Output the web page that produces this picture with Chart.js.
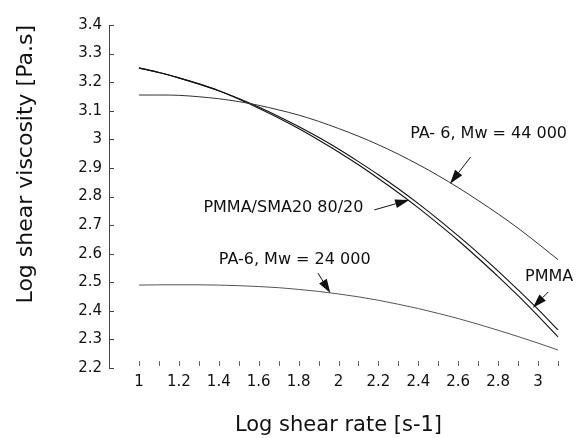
<!DOCTYPE html>
<html>
<head>
<meta charset="utf-8">
<script src="https://cdn.jsdelivr.net/npm/chart.js@4.4.1/dist/chart.umd.min.js"></script>
<style>
  html, body { margin: 0; padding: 0; background: #fff; }
  #wrap { width: 578px; height: 438px; }
</style>
</head>
<body>
<div id="wrap"><canvas id="c" width="578" height="438"></canvas></div>
<script>
// ---- data ----
const shearRate = [1.0, 1.1, 1.2, 1.3, 1.4, 1.5, 1.6, 1.7, 1.8, 1.9, 2.0, 2.1, 2.2, 2.3, 2.4, 2.5, 2.6, 2.7, 2.8, 2.9, 3.0, 3.1];
const blendSMA = [3.250, 3.234, 3.215, 3.194, 3.170, 3.143, 3.113, 3.080, 3.045, 3.007, 2.966, 2.922, 2.876, 2.827, 2.775, 2.720, 2.662, 2.602, 2.539, 2.473, 2.405, 2.333];
const pmma = [3.250, 3.234, 3.215, 3.194, 3.170, 3.141, 3.109, 3.075, 3.038, 2.998, 2.956, 2.911, 2.863, 2.813, 2.760, 2.704, 2.646, 2.584, 2.520, 2.453, 2.382, 2.309];
const pa6_44000 = [3.155, 3.155, 3.154, 3.149, 3.142, 3.132, 3.119, 3.103, 3.085, 3.063, 3.038, 3.011, 2.981, 2.948, 2.912, 2.873, 2.831, 2.786, 2.739, 2.689, 2.635, 2.579];
const pa6_24000 = [2.490, 2.491, 2.491, 2.491, 2.490, 2.488, 2.485, 2.481, 2.475, 2.468, 2.459, 2.449, 2.437, 2.423, 2.408, 2.391, 2.373, 2.353, 2.332, 2.310, 2.287, 2.263];

const xTickValues = [1.0, 1.1, 1.2, 1.3, 1.4, 1.5, 1.6, 1.7, 1.8, 1.9, 2.0, 2.1, 2.2, 2.3, 2.4, 2.5, 2.6, 2.7, 2.8, 2.9, 3.0, 3.1];
const xTickLabels = ['1', '', '1.2', '', '1.4', '', '1.6', '', '1.8', '', '2', '', '2.2', '', '2.4', '', '2.6', '', '2.8', '', '3', ''];
const yTickValues = [2.2, 2.3, 2.4, 2.5, 2.6, 2.7, 2.8, 2.9, 3.0, 3.1, 3.2, 3.3, 3.4];
const yTickLabels = ['2.2', '2.3', '2.4', '2.5', '2.6', '2.7', '2.8', '2.9', '3', '3.1', '3.2', '3.3', '3.4'];

const xTitle = 'Log shear rate [s-1]';
const yTitle = 'Log shear viscosity [Pa.s]';

// annotations (label anchor and arrow in data units)
const annoTexts = ['PA- 6, Mw = 44 000', 'PMMA/SMA20 80/20', 'PA-6, Mw = 24 000', 'PMMA'];
const annoX = [2.359, 1.323, 1.400, 2.935];
const annoY = [3.019, 2.760, 2.578, 2.518];
const arrowFromX = [2.662, 2.179, 1.897, 3.051];
const arrowFromY = [2.938, 2.753, 2.532, 2.466];
const arrowToX = [2.559, 2.354, 1.959, 2.974];
const arrowToY = [2.845, 2.788, 2.462, 2.411];

const FONT = "'DejaVu Sans', sans-serif";

function pts(ys) { return shearRate.map((x, i) => ({ x: x, y: ys[i] })); }

const axesPlugin = {
  id: 'axesPlugin',
  afterDraw(chart) {
    const ctx = chart.ctx;
    const xs = chart.scales.x, ys = chart.scales.y;
    const a = chart.chartArea;
    ctx.save();
    ctx.strokeStyle = '#444';
    ctx.lineWidth = 1;
    // y axis line
    ctx.beginPath();
    ctx.moveTo(a.left + 0.5, a.top);
    ctx.lineTo(a.left + 0.5, a.bottom);
    ctx.stroke();
    // y tick marks (inward)
    yTickValues.forEach(v => {
      const py = Math.round(ys.getPixelForValue(v)) + 0.5;
      ctx.beginPath();
      ctx.moveTo(a.left, py);
      ctx.lineTo(a.left + 5, py);
      ctx.stroke();
    });
    // x tick marks
    ctx.strokeStyle = '#666';
    xTickValues.forEach(v => {
      const px = Math.round(xs.getPixelForValue(v)) + 0.5;
      ctx.beginPath();
      ctx.moveTo(px, a.bottom - 2);
      ctx.lineTo(px, a.bottom - 7);
      ctx.stroke();
    });
    // annotations
    ctx.fillStyle = '#111';
    ctx.font = '16px ' + FONT;
    ctx.textBaseline = 'middle';
    ctx.textAlign = 'left';
    annoTexts.forEach((t, i) => {
      ctx.fillText(t, xs.getPixelForValue(annoX[i]), ys.getPixelForValue(annoY[i]));
      const x1 = xs.getPixelForValue(arrowFromX[i]), y1 = ys.getPixelForValue(arrowFromY[i]);
      const x2 = xs.getPixelForValue(arrowToX[i]), y2 = ys.getPixelForValue(arrowToY[i]);
      const ang = Math.atan2(y2 - y1, x2 - x1);
      const L = 14, W = 4.5;
      const bx = x2 - L * Math.cos(ang), by = y2 - L * Math.sin(ang);
      ctx.strokeStyle = '#111';
      ctx.lineWidth = 1;
      ctx.beginPath();
      ctx.moveTo(x1, y1);
      ctx.lineTo(bx, by);
      ctx.stroke();
      ctx.beginPath();
      ctx.moveTo(x2, y2);
      ctx.lineTo(bx + W * Math.sin(ang), by - W * Math.cos(ang));
      ctx.lineTo(bx - W * Math.sin(ang), by + W * Math.cos(ang));
      ctx.closePath();
      ctx.fill();
    });
    ctx.restore();
  }
};

const bgPlugin = {
  id: 'bg',
  beforeDraw(chart) {
    const ctx = chart.ctx;
    ctx.save();
    ctx.fillStyle = '#fff';
    ctx.fillRect(0, 0, chart.width, chart.height);
    ctx.restore();
  }
};

new Chart(document.getElementById('c'), {
  type: 'line',
  data: {
    datasets: [
      { label: 'PA-6, Mw = 44 000', data: pts(pa6_44000), borderColor: '#333', borderWidth: 1 },
      { label: 'PA-6, Mw = 24 000', data: pts(pa6_24000), borderColor: '#555', borderWidth: 1 },
      { label: 'PMMA/SMA20 80/20', data: pts(blendSMA), borderColor: '#111', borderWidth: 1.1 },
      { label: 'PMMA', data: pts(pmma), borderColor: '#111', borderWidth: 1.1 }
    ]
  },
  options: {
    responsive: false,
    animation: false,
    elements: {
      point: { radius: 0 },
      line: { cubicInterpolationMode: 'monotone', fill: false }
    },
    layout: { padding: { left: 0, right: 10, top: 25, bottom: 0 } },
    plugins: {
      legend: { display: false },
      tooltip: { enabled: false }
    },
    scales: {
      x: {
        type: 'linear',
        min: 0.85,
        max: 3.15,
        border: { display: false },
        grid: { display: false, drawTicks: false },
        afterBuildTicks: (s) => { s.ticks = xTickValues.map(v => ({ value: v })); },
        afterFit: (s) => { s.height = 70; s.paddingLeft = 0; s.paddingRight = 0; },
        ticks: {
          autoSkip: false,
          maxRotation: 0,
          padding: 5,
          color: '#111',
          font: { family: FONT, size: 15 },
          callback: (v, i) => xTickLabels[i]
        },
        title: {
          display: true,
          text: xTitle,
          color: '#111',
          font: { family: FONT, size: 21 },
          padding: { top: 0, bottom: 0 }
        }
      },
      y: {
        type: 'linear',
        min: 2.2,
        max: 3.4,
        border: { display: false },
        grid: { display: false, drawTicks: false },
        afterBuildTicks: (s) => { s.ticks = yTickValues.map(v => ({ value: v })); },
        afterFit: (s) => { s.width = 109; s.paddingTop = 0; s.paddingBottom = 0; },
        ticks: {
          autoSkip: false,
          padding: 7,
          color: '#111',
          font: { family: FONT, size: 15 },
          callback: (v, i) => yTickLabels[i]
        },
        title: {
          display: true,
          text: yTitle,
          align: 'end',
          color: '#111',
          font: { family: FONT, size: 22 },
          padding: { top: 13, bottom: 0 }
        }
      }
    }
  },
  plugins: [bgPlugin, axesPlugin]
});
</script>
</body>
</html>
